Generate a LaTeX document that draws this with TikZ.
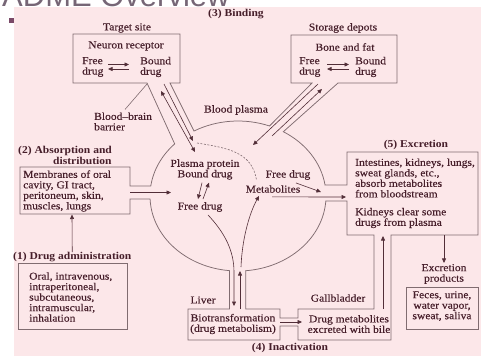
\documentclass[tikz,border=0pt]{standalone}
\usepackage{fontspec}
\setmainfont{Liberation Serif}[FakeStretch=1.1, UprightFeatures={FakeBold=0.3}]
\newfontfamily\titlefont{Liberation Sans}
\usepackage{xcolor}
\usetikzlibrary{arrows.meta,calc}
\definecolor{panel}{RGB}{252,231,233}
\definecolor{ink}{RGB}{70,30,42}
\definecolor{wall}{RGB}{128,108,112}
\definecolor{slide}{RGB}{118,102,118}
\definecolor{bullet}{RGB}{122,74,104}

\begin{document}
\begin{tikzpicture}[x=1pt, y=-1pt,
  font=\fontsize{10.5}{10.5}\selectfont,
  txt/.style={text=ink, inner sep=0pt, align=center},
  lft/.style={txt, align=left, anchor=west},
  hd/.style={txt, font=\fontsize{10.5}{11}\selectfont\bfseries},
  wal/.style={draw=wall, line width=0.75pt},
  ptr/.style={draw=wall, line width=0.6pt},
  arr/.style={draw=ink!80!wall, line width=0.6pt, -{Triangle[length=4.5pt,width=4pt]}},
  barr/.style={arr, {Triangle[length=4.5pt,width=4pt]}-{Triangle[length=4.5pt,width=4pt]}},
]
\useasboundingbox (0,0) rectangle (481,356);
\clip (0,0) rectangle (481,356);
\fill[white] (0,0) rectangle (481,356);
\fill[panel] (14,7) rectangle (481,356);
\fill[bullet] (9,18) rectangle (14,23);
\node[anchor=base west, inner sep=0pt, text=slide, font=\titlefont\fontsize{31}{31}\selectfont] (title) at (2,6) {ADME Overview};

% plasma, boxes and channels as two outlines
\draw[wal] (325.06,185.04) -- (347,185) -- (347,152) -- (478,152) -- (478,235) -- (391,235) -- (391,340)
  -- (298,340) -- (298,326) -- (280,326) -- (280,340) -- (188,340) -- (188,309) -- (229.57,309) -- (229.57,270.65)
  arc[start angle=-264.5, end angle=-182.3, x radius=88, y radius=75]
  -- (130,199) -- (130,214) -- (20,214) -- (20,167) -- (130,167) -- (130,186.08) -- (150.77,186.08)
  arc[start angle=-172.4, end angle=-136, x radius=88, y radius=75]
  -- (147,83) -- (73,83) -- (73,34) -- (180,34) -- (180,83) -- (170,83) -- (194,131.05)
  arc[start angle=-120, end angle=-69, x radius=88, y radius=75]
  -- (312,83) -- (291,83) -- (291,35) -- (397,35) -- (397,83) -- (338,83) -- (283.32,131.71)
  arc[start angle=-59, end angle=-8.4, x radius=88, y radius=75] -- cycle;
\draw[wal] (245.67,270.71) -- (245.67,309) -- (280,309) -- (280,318) -- (298,318) -- (298,309) -- (374,309)
  -- (374,235) -- (347,235) -- (347,200.97) -- (325.81,200.97)
  arc[start angle=3.8, end angle=85, x radius=88, y radius=75] -- cycle;
\draw[wal] (18,263) rectangle (127,329);
\draw[wal] (406,287) rectangle (478,329);

\node[hd] (bind) at (236,14.5) {(3) Binding};
\node[txt] (target) at (127,28) {Target site};
\node[txt] (neuron) at (126,46) {Neuron receptor};
\node[lft] (nfree) at (82,67) {Free\\drug};
\node[lft] (nbound) at (140,67) {Bound\\drug};
\node[txt] (storage) at (343,28) {Storage depots};
\node[txt] (bone) at (345,47) {Bone and fat};
\node[lft] (sfree) at (299,67) {Free\\drug};
\node[lft] (sbound) at (355,67) {Bound\\drug};
\node[lft] (bbb) at (94,121.5) {Blood–brain\\barrier};
\node[txt] (plasma) at (236,110) {Blood plasma};
\node[hd, align=left, anchor=west] (abshead) at (18,155.5) {(2) Absorption and\\\hspace*{35pt}distribution};
\node[lft] (memb) at (23,191) {Membranes of oral\\cavity, GI tract,\\peritoneum, skin,\\muscles, lungs};
\node[hd, anchor=west] (admhead) at (13,257) {(1) Drug administration};
\node[lft] (adm) at (29,297) {Oral, intravenous,\\intraperitoneal,\\subcutaneous,\\intramuscular,\\inhalation};
\node[txt] (pbound) at (205,169.5) {Plasma protein\\Bound drug};
\node[txt] (pfree) at (200,207) {Free drug};
\node[txt] (rfree) at (288,175) {Free drug};
\node[txt] (metab) at (273,189) {Metabolites};
\node[hd] (exhead) at (416,145) {(5) Excretion};
\node[lft] (absorb) at (355,178) {Intestines, kidneys, lungs,\\sweat glands, etc.,\\absorb metabolites\\from bloodstream};
\node[lft] (kidney) at (355,218) {Kidneys clear some\\drugs from plasma};
\node[txt] (exprod) at (444,274) {Excretion\\products};
\node[txt] (feces) at (442,306) {Feces, urine,\\water vapor,\\sweat, saliva};
\node[txt] (liver) at (203,300) {Liver};
\node[txt] (biotr) at (233,324) {Biotransformation\\(drug metabolism)};
\node[txt] (gall) at (338,298) {Gallbladder};
\node[txt] (bile) at (349,324) {Drug metabolites\\excreted with bile};
\node[hd] (inact) at (290,348) {(4) Inactivation};

\coordinate (n1) at (161,91);  \coordinate (n2) at (195,152);
\coordinate (n3) at (164,84);  \coordinate (n4) at (193,141);
\coordinate (s1) at (272,136); \coordinate (s2) at (322,89);
\coordinate (s3) at (318,84);  \coordinate (s4) at (253,145);
\coordinate (bbbtip) at (147,84);
\coordinate (m1) at (130,192.5); \coordinate (m2) at (171,192.5);
\coordinate (membbot) at (72,214.5);
\coordinate (f2) at (321,192);
\coordinate (mt2) at (346,197);
\coordinate (lv2) at (234,306);
\coordinate (lu1) at (240,309); \coordinate (lu2) at (240,271);
\coordinate (lg1) at (280,322); \coordinate (lg2) at (302,322);
\coordinate (gb1) at (383,309); \coordinate (gb2) at (383,236);
\coordinate (ex1) at (444,235);

\draw[barr] (n1) -- (n2);
\draw[arr] (n3) -- (n4);
\draw[arr] (s1) -- (s2);
\draw[arr] (s3) -- (s4);
\draw[ptr] ($(bbb.north)+(2,-3)$) -- (bbbtip);
\draw[ptr, dash pattern=on 2pt off 1.5pt] ($(n4)+(4,2)$) .. controls (228,148) and (252,152) .. ($(metab.north west)+(11,-5)$);
\draw[arr] (m1) -- (m2);
\draw[arr] (admhead.north) -- (membbot);
\draw[arr] ([xshift=-3pt,yshift=-3pt]pbound.south) -- ([xshift=-2pt,yshift=3pt]pfree.north);
\draw[arr] ([xshift=3pt,yshift=3pt]pfree.north) -- ([xshift=4pt,yshift=-3pt]pbound.south);
\draw[arr] ([xshift=8pt,yshift=-3pt]rfree.south) -- (f2);
\draw[arr] ([xshift=-1pt,yshift=-4pt]metab.south) -- (mt2);
\draw[arr] ([xshift=8pt,yshift=-3pt]pfree.south) .. controls (224,232) and (234,250) .. (234,272) -- (lv2);
\draw[arr] (lu1) -- (lu2);
\draw[arr] (241,267) .. controls (242,240) and (249,214) .. ([xshift=-14pt,yshift=-3pt]metab.south);
\draw[arr] (lg1) -- (lg2);
\draw[arr] (gb1) -- (gb2);
\draw[arr] (ex1) -- ([yshift=1pt]exprod.north);
\foreach \a/\b in {108/129, 327/349} {
  \draw[arr] (\a,64.5) -- (\b,64.5);
  \draw[arr] (\b,69) -- (\a,69);
}
\end{tikzpicture}
\end{document}
